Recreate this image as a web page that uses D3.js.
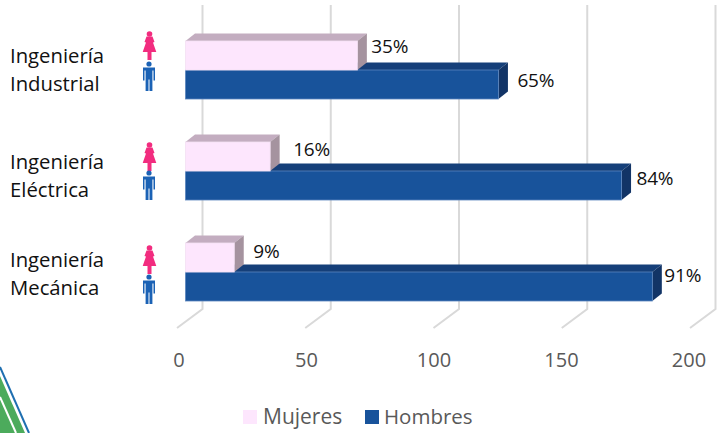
<!DOCTYPE html>
<html><head><meta charset="utf-8">
<script src="https://cdnjs.cloudflare.com/ajax/libs/d3/7.8.5/d3.min.js"></script>
<style>html,body{margin:0;padding:0;background:#fff}svg{display:block}text{font-family:"Open Sans",sans-serif}</style>
</head><body><svg id="c" width="721" height="433"></svg>
<script>
const categories=[["Ingeniería","Industrial"],["Ingeniería","Eléctrica"],["Ingeniería","Mecánica"]];
const mujeres=[67,33,19];
const hombres=[122,170,182];
const mujeresPct=["35%","16%","9%"];
const hombresPct=["65%","84%","91%"];
const ticks=[0,50,100,150,200];
const legendLabels=["Mujeres","Hombres"];

const svg=d3.select("#c");
const x=d3.scaleLinear().domain([0,200]).range([185.5,698.5]);
const tickX=d3.scaleLinear().domain([0,200]).range([179,689]);
const dx=9.5,dy=-7.5,barH=29;
const gridX=d=>x(d)+17, floorX=d=>x(d)-8.5;

const g=svg.append("g").attr("fill","none").attr("stroke","#d9d9d9").attr("stroke-width",2);
ticks.forEach(t=>{
  g.append("path").attr("d",`M${gridX(t)},5V309L${floorX(t)},328`);
});
function box(sel,val,y,c){
  const x0=x(0),x1=x(val);
  sel.append("path").attr("d",`M${x0},${y}L${x0+dx},${y+dy}H${x1+dx}L${x1},${y}Z`).attr("fill",c.top);
  sel.append("path").attr("d",`M${x1},${y}L${x1+dx},${y+dy}V${y+barH+dy}L${x1},${y+barH}Z`).attr("fill",c.side);
  sel.append("rect").attr("x",x0).attr("y",y).attr("width",x1-x0).attr("height",barH).attr("fill",c.front).attr("stroke",c.edge).attr("stroke-width",.8);
}
const pink={top:"#c3adc0",side:"#a5939f",front:"#fde6fd",edge:"#f3e0f3"};
const blue={top:"#153f79",side:"#123466",front:"#18539b",edge:"#5b86bd"};
const mPctDx=[14,23,19];
const hPctDx=[19,15,12];
const mPctBase=[53,156,258];
const hPctBase=[87,185,282];
const womanTop=[31,142,245];
const manTop=[61.5,170.5,274.5];
const labelBase=[63,169,267];
categories.forEach((c,i)=>{
  const top=41+i*101;
  const s=svg.append("g");
  box(s,hombres[i],top+barH,blue);
  box(s,mujeres[i],top,pink);
  svg.append("text").attr("x",x(mujeres[i])+mPctDx[i]).attr("y",mPctBase[i]).attr("font-size",19).attr("letter-spacing",-.2).attr("fill","#111").text(mujeresPct[i]);
  svg.append("text").attr("x",x(hombres[i])+hPctDx[i]).attr("y",hPctBase[i]).attr("font-size",19).attr("letter-spacing",-.2).attr("fill","#111").text(hombresPct[i]);
  const t=svg.append("text").attr("font-size",20.3).attr("fill","#111");
  c.forEach((l,j)=>t.append("tspan").attr("x",10).attr("y",labelBase[i]+j*28).text(l));
  const w=svg.append("g").attr("transform",`translate(149.5,${womanTop[i]})`).attr("fill","#f22c7f");
  w.append("circle").attr("cy",3).attr("r",2.8);
  w.append("path").attr("d","M-3,5.5H3L5,11L3.5,11.5L6.8,21H-6.8L-3.5,11.5L-5,11Z");
  w.append("rect").attr("x",-2).attr("y",21).attr("width",4).attr("height",8);
  const m=svg.append("g").attr("transform",`translate(149,${manTop[i]})`).attr("fill","#1b62b5");
  m.append("circle").attr("cy",2.5).attr("r",2.6);
  m.append("path").attr("d","M-6,6H6V19H4.5V9H3.4V29.5H.5V18H-.5V29.5H-3.4V9H-4.5V19H-6Z");
});
svg.selectAll(".t").data(ticks).join("text").attr("x",d=>tickX(d)).attr("y",367).attr("text-anchor","middle").attr("font-size",20).attr("fill","#595959").text(d=>d);
svg.append("rect").attr("x",243).attr("y",410).attr("width",14).attr("height",14).attr("fill","#fde6fd");
svg.append("text").attr("x",263).attr("y",424).attr("font-size",21).attr("fill","#595959").text(legendLabels[0]);
svg.append("rect").attr("x",365).attr("y",410).attr("width",14).attr("height",14).attr("fill","#18539b");
svg.append("text").attr("x",384).attr("y",424).attr("font-size",20.5).attr("fill","#595959").text(legendLabels[1]);
const lg=svg.append("g");
lg.append("path").attr("d","M0,376L25,433H0Z").attr("fill","#4cab5c");
lg.append("path").attr("d","M0,397L16,433").attr("fill","none").attr("stroke","#fff").attr("stroke-width",2);
lg.append("path").attr("d","M0,367L29,433").attr("fill","none").attr("stroke","#1f6fb0").attr("stroke-width",2);
</script></body></html>
